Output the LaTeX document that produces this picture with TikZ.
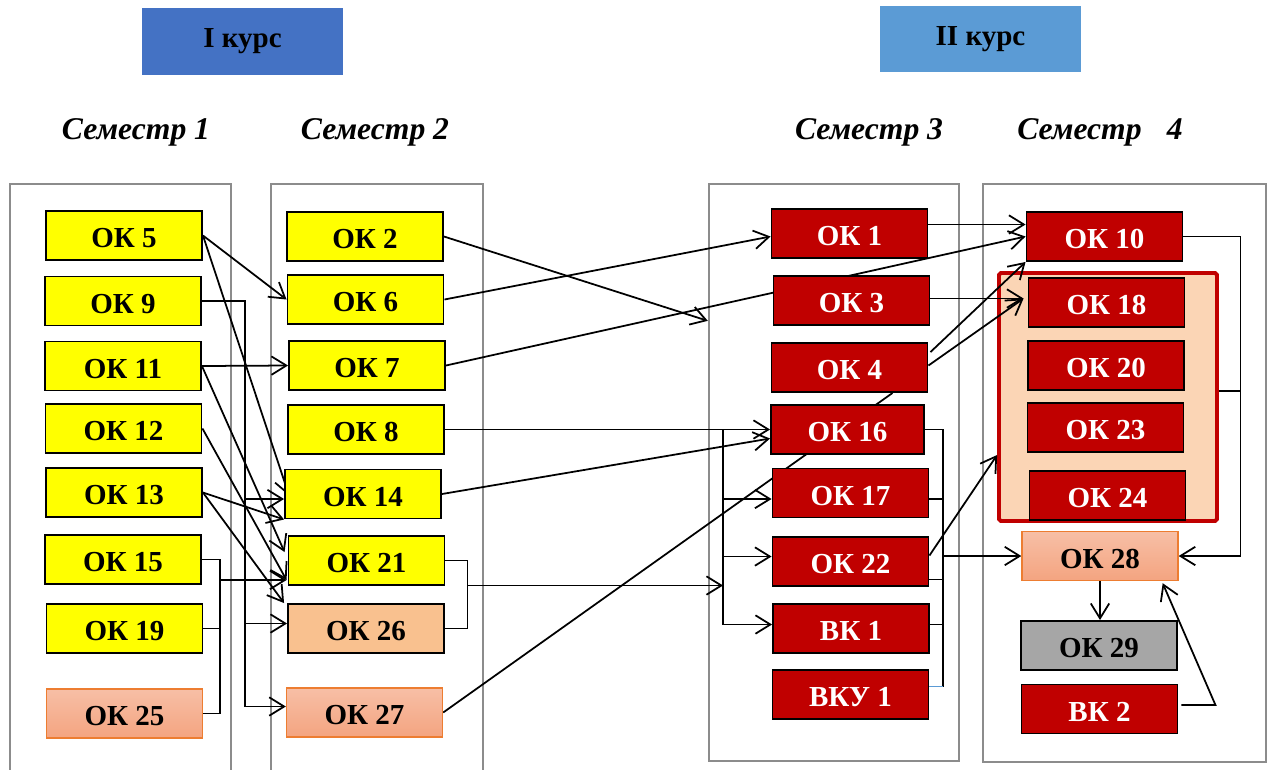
\documentclass[tikz,border=0pt]{standalone}
\usepackage{fontspec}
\setmainfont{Liberation Serif}
\usetikzlibrary{arrows.meta,calc}
\definecolor{yel}{HTML}{FFFF00}
\definecolor{dred}{HTML}{C00000}
\definecolor{salT}{HTML}{F7BFA6}
\definecolor{salB}{HTML}{F4A480}
\definecolor{salD}{HTML}{ED7D31}
\definecolor{org}{HTML}{F9C18F}
\definecolor{peach}{HTML}{FBD5B5}
\definecolor{gry}{HTML}{A6A6A6}
\definecolor{frm}{HTML}{8C8C8C}
\definecolor{blueA}{HTML}{4472C4}
\definecolor{blueB}{HTML}{5B9BD5}
\pgfdeclarelayer{bg}\pgfdeclarelayer{mid}\pgfsetlayers{bg,mid,main}
\begin{document}
\begin{tikzpicture}[x=0.02cm,y=-0.02cm,
 box/.style={minimum width=3.12cm,minimum height=0.98cm,inner sep=0pt,line width=1.1pt,text height=14pt,text depth=0pt,font=\fontsize{16.5}{18}\selectfont\bfseries},
 yb/.style={box,draw=black,fill=yel,text=black},
 rb/.style={box,draw=black,fill=dred,text=white},
 sb/.style={box,draw=salD,line width=0.8pt,top color=salT,bottom color=salB,text=black},
 ob/.style={box,draw=black,fill=org,text=black},
 gb/.style={box,draw=black,fill=gry,text=black},
 frame/.style={draw=frm,line width=1.4pt,inner sep=0pt},
 arr/.style={line width=1pt,-{Straight Barb[length=8.5pt,width=10.5pt,line width=1pt]}},
 ln/.style={line width=1pt},
 hdr/.style={font=\fontsize{18}{20}\selectfont\bfseries\itshape},
 kurs/.style={minimum width=4.02cm,minimum height=1.33cm,inner sep=0pt,font=\fontsize{16.5}{18}\selectfont\bfseries}
]
\clip (0,0) rectangle (1275,769);
% headers
\node[kurs,fill=blueA] (k1) at (242.5,41.5) {I курс};
\node[kurs,fill=blueB] (k2) at (980.5,39) {II курс};
\node[hdr] (h1) at (136,132) {Семестр 1};
\node[hdr] (h2) at (375,132) {Семестр 2};
\node[hdr] (h3) at (869,132) {Семестр 3};
\node[hdr] (h4) at (1100,132) {Семестр\hspace{0.8em}4};
% frames
\begin{pgfonlayer}{bg}
\node[frame,minimum width=4.42cm,minimum height=12.32cm] (s1) at (120.5,492) {};
\node[frame,minimum width=4.24cm,minimum height=12.32cm] (s2) at (377,492) {};
\node[frame,minimum width=5cm,minimum height=11.54cm] (s3) at (834,472.5) {};
\node[frame,minimum width=5.66cm,minimum height=11.56cm] (s4) at (1124.5,473) {};
\node[draw=dred,line width=2.2pt,fill=peach,rounded corners=1pt,minimum width=4.36cm,minimum height=4.96cm,inner sep=0pt] (grp) at (1108,397) {};
\end{pgfonlayer}
% S1
\node[yb] (ok5) at (124,235.5) {ОК 5};
\node[yb] (ok9) at (123,301) {ОК 9};
\node[yb] (ok11) at (123,366) {ОК 11};
\node[yb] (ok12) at (123.5,428.5) {ОК 12};
\node[yb] (ok13) at (124,492.5) {ОК 13};
\node[yb] (ok15) at (123,559.5) {ОК 15};
\node[yb] (ok19) at (124.5,628.5) {ОК 19};
\node[sb] (ok25) at (124.5,713.5) {ОК 25};
% S2
\node[yb] (ok2) at (365,236.5) {ОК 2};
\node[yb] (ok6) at (365.5,299.5) {ОК 6};
\node[yb] (ok7) at (367,365.5) {ОК 7};
\node[yb] (ok8) at (366,429.5) {ОК 8};
\node[yb] (ok14) at (363,494) {ОК 14};
\node[yb] (ok21) at (366.5,560.5) {ОК 21};
\node[ob] (ok26) at (366,628.5) {ОК 26};
\node[sb] (ok27) at (364.5,712.5) {ОК 27};
% S3
\node[rb] (ok1) at (849.5,233.5) {ОК 1};
\node[rb] (ok3) at (851.5,300.5) {ОК 3};
\node[rb] (ok4) at (849.5,367.5) {ОК 4};
\node[rb,minimum width=3.06cm] (ok16) at (847.5,429.5) {ОК 16};
\node[rb] (ok17) at (850.5,493) {ОК 17};
\node[rb] (ok22) at (850.5,561.5) {ОК 22};
\node[rb] (vk1) at (851,628.5) {ВК 1};
\node[rb] (vku1) at (850.5,694.5) {ВКУ 1};
% S4
\node[rb] (ok10) at (1104.5,236.5) {ОК 10};
\node[rb] (ok18) at (1106.5,302.5) {ОК 18};
\node[rb] (ok20) at (1106,365.5) {ОК 20};
\node[rb] (ok23) at (1105.5,427.5) {ОК 23};
\node[rb] (ok24) at (1107.5,495.5) {ОК 24};
\node[sb] (ok28) at (1100,556) {ОК 28};
\node[gb] (ok29) at (1099,645.5) {ОК 29};
\node[rb] (vk2) at (1099.5,709) {ВК 2};
% connectors
\begin{pgfonlayer}{mid}
% S1 -> S2
\draw[arr] (ok5.east) -- (ok6.west);
\draw[arr] (ok5.east) -- ($(ok14.north west)+(5,27)$);
\draw[arr] (ok9.east) -- ++(43,0) coordinate (v9) |- ($(ok27.west)+(0,-6)$);
\coordinate (t14) at ($(ok14.west)+(0,5)$);
\draw[arr] (v9 |- t14) -- (t14);
\coordinate (t26) at ($(ok26.west)+(0,-5)$);
\draw[arr] (v9 |- t26) -- (t26);
\draw[arr] (ok11.east) -- (ok7.west);
\draw[arr] (ok11.east) -- ($(ok21.north west)+(-3,17)$);
\coordinate (t21) at ($(ok21.west)+(-1,19.5)$);
\draw[arr] (ok12.east) -- (t21);
\draw[arr] (ok13.east) -- (ok14.south west);
\draw[arr] (ok13.east) -- ($(ok26.north west)+(-3,0)$);
\draw[ln] (ok15.east) -- ++(18,0) coordinate (v15) |- (ok25.east);
\draw[ln] (ok19.east) -- (ok19.east -| v15);
\draw[arr] (v15 |- t21) -- (t21);
% S2 -> S3
\draw[arr] (ok2.east) -- ($(s3.north west)+(0,138)$);
\draw[arr] (ok6.east) -- ($(ok1.west)+(0,3)$);
\draw[arr] (ok7.east) -- (ok10.west);
\draw[arr] (ok8.east) -- (ok16.west);
\draw[arr] (ok14.east) -- ($(ok16.west)+(0,9)$);
\coordinate (vb) at ($(ok16.west)+(-47,0)$);
\draw[arr] (vb) |- ($(vk1.west)+(0,-4)$);
\coordinate (t17) at ($(ok17.west)+(0,6)$);
\draw[arr] (vb |- t17) -- (t17);
\coordinate (t22) at ($(ok22.west)+(0,-5)$);
\draw[arr] (vb |- t22) -- (t22);
\draw[ln] (ok21.east) -- ++(22,0) coordinate (v21) |- (ok26.east);
\coordinate (in3) at ($(vb)+(0,156)$);
\draw[arr] (v21 |- in3) -- (in3);
\draw[ln] (ok27.east) -- ($(ok4.south)+(43,0)$);
% S3 -> S4
\draw[arr] ($(ok1.east)+(0,-9)$) -- ($(ok10.west)+(0,-12)$);
\draw[arr] ($(ok3.east)+(0,-2)$) -- ($(ok18.west)+(-4,-4)$);
\draw[arr] ($(ok4.north east)+(2,10)$) -- (ok10.south west);
\draw[arr] ($(ok4.east)+(0,-2)$) -- ($(ok18.west)+(-4,-4)$);
\coordinate (tvku) at ($(vku1.east)+(0,-8)$);
\draw[ln] (ok16.east) -- ++(18,0) coordinate (v16) -- (v16 |- tvku);
\draw[blueB,line width=0.8pt] (v16 |- tvku) -- (tvku);
\coordinate (a17) at ($(ok17.east)+(0,6)$);
\draw[ln] (a17) -- (a17 -| v16);
\coordinate (a22) at ($(ok22.east)+(0,18)$);
\draw[ln] (a22) -- (a22 -| v16);
\coordinate (avk) at ($(vk1.east)+(0,-4)$);
\draw[ln] (avk) -- (avk -| v16);
\draw[arr] (v16 |- ok28.west) -- (ok28.west);
\draw[arr] ($(ok22.east)+(0,-6)$) -- ($(grp.west)+(0,58)$);
\draw[arr] (ok10.east) -- ++(57,0) coordinate (v10) |- (ok28.east);
\coordinate (ge) at ($(grp.east)+(0,-6)$);
\draw[ln] (ge) -- (ge -| v10);
\draw[arr] (ok28.south) -- (ok28.south |- ok29.north);
\draw[arr] ($(vk2.east)+(3,-4)$) -- ++(34,0) -- ($(ok28.south east)+(-16,2)$);
\end{pgfonlayer}
\end{tikzpicture}
\end{document}
